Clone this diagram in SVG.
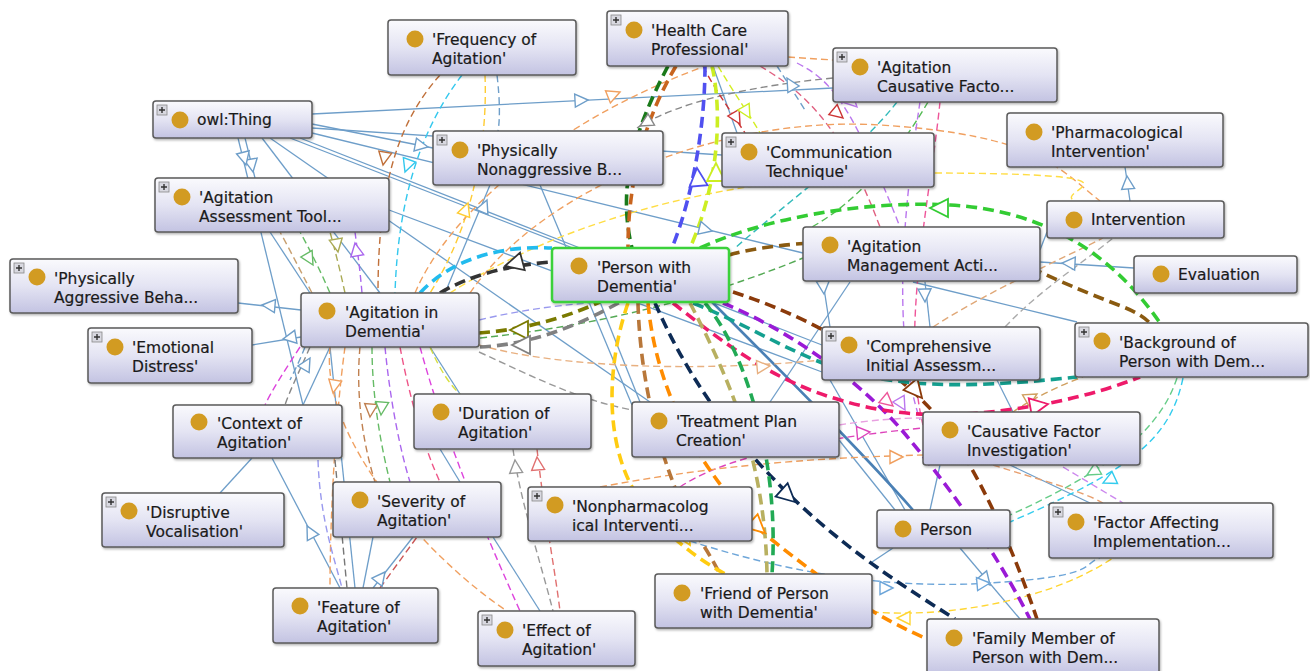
<svg xmlns="http://www.w3.org/2000/svg" xmlns:xlink="http://www.w3.org/1999/xlink" width="1310" height="671" viewBox="0 0 1310 671">
<defs>
<linearGradient id="g" x1="0" y1="0" x2="0" y2="1">
<stop offset="0" stop-color="#fafafd"/>
<stop offset="0.5" stop-color="#e4e4f3"/>
<stop offset="1" stop-color="#c3c3e2"/>
</linearGradient>
<filter id="sh" x="-5%" y="-10%" width="115%" height="130%">
<feDropShadow dx="1" dy="1.5" stdDeviation="1" flood-color="#000" flood-opacity="0.3"/>
</filter>
<path id="a" d="M0,0 L-13,-6.5 L-13,6.5 Z" fill="#fff" stroke-width="1.4"/>
<path id="A" d="M0,0 L-18,-9 L-18,9 Z" fill="#fff" stroke-width="1.8"/>
<g id="plus"><rect width="10" height="10" fill="#d8d8e0" stroke="#888" stroke-width="0.8"/><path d="M5,2 V8 M2,5 H8" stroke="#333" stroke-width="1.4"/></g>
</defs>
<style>
.b{fill:url(#g);stroke:#5a5a5a;stroke-width:1.5;filter:url(#sh)}
.bg{fill:url(#g);stroke:#3ad13a;stroke-width:2.5;filter:url(#sh)}
.c{fill:#d29b22}
.t{font-family:"DejaVu Sans","Liberation Sans",sans-serif;font-size:15.5px;fill:#1a1a1a;stroke:#1a1a1a;stroke-width:0.2}
.s{fill:none;stroke:#6e9ec9;stroke-width:1.3}
.d{fill:none;stroke-width:1.4;stroke-dasharray:7 4}
.D{fill:none;stroke-width:3.6;stroke-dasharray:11 6}
</style>
<rect width="1310" height="671" fill="#fff"/>
<g id="connectors">
<path class="s" d="M312,114 L833,88"/>
<path class="s" d="M312,124 L433,148"/>
<path class="s" d="M312,128 L722,155"/>
<path class="s" d="M312,133 L803,253"/>
<path class="s" d="M300,138 L580,248"/>
<path class="s" d="M290,138 L822,345"/>
<path class="s" d="M245,138 L255,178"/>
<path class="s" d="M238,138 L303,405"/>
<path class="s" d="M262,138 L380,293"/>
<path class="s" d="M270,138 L650,402"/>
<path class="s" d="M389,210 L822,372"/>
<path class="s" d="M238,303 L301,310"/>
<path class="s" d="M252,345 L301,337"/>
<path class="s" d="M303,405 L330,347"/>
<path class="s" d="M220,493 L252,458"/>
<path class="s" d="M340,588 L272,458"/>
<path class="s" d="M363,588 L373,537"/>
<path class="s" d="M373,588 L413,537"/>
<path class="s" d="M355,588 L330,347"/>
<path class="s" d="M493,537 L540,611"/>
<path class="s" d="M440,449 L460,482"/>
<path class="s" d="M430,347 L460,394"/>
<path class="s" d="M445,293 L490,185"/>
<path class="s" d="M310,293 L270,232"/>
<path class="s" d="M713,66 L737,133"/>
<path class="s" d="M1130,201 L1125,167"/>
<path class="s" d="M1134,268 L1040,262"/>
<path class="s" d="M1047,232 L1040,250"/>
<path class="s" d="M823,282 L830,327"/>
<path class="s" d="M925,282 L930,327"/>
<path class="s" d="M913,282 L1077,322"/>
<path class="s" d="M770,402 L850,282"/>
<path class="s" d="M997,380 L1013,412"/>
<path class="s" d="M830,380 L905,510"/>
<path class="s" d="M839,440 L895,510"/>
<path class="s" d="M940,465 L930,510"/>
<path class="s" d="M960,548 L1020,619"/>
<path class="s" d="M893,548 L872,562"/>
<path class="s" d="M1010,465 L1090,503"/>
<path class="s" d="M600,302 L640,402"/>
<path class="s" d="M540,185 L632,405"/>
<path fill="none" stroke="#4a80b5" stroke-width="2.6" d="M712,302 C780,370 860,450 913,510"/>
<path class="d" stroke="#c0703a" d="M440,75 C400,120 378,180 378,293"/>
<path class="d" stroke="#33c8ee" d="M462,75 C420,130 398,200 395,293"/>
<path class="d" stroke="#ffcc33" d="M485,75 C488,150 470,230 430,293"/>
<path class="d" stroke="#6e9ec9" d="M497,75 C500,100 500,120 498,131"/>
<path class="d" stroke="#f0a060" d="M415,293 C450,210 560,120 700,68"/>
<path class="d" stroke="#f0a060" d="M788,57 L833,60"/>
<path class="d" stroke="#888" d="M833,78 C760,85 680,100 637,128"/>
<path class="d" stroke="#cc3333" d="M703,66 C715,90 730,110 745,133"/>
<path class="d" stroke="#e06080" d="M760,66 C800,90 840,120 880,227"/>
<path class="d" stroke="#bb77ee" d="M797,63 C830,80 850,100 900,227"/>
<path class="d" stroke="#6e9ec9" d="M777,66 L805,110"/>
<path class="d" stroke="#d4ee22" stroke-width="2" d="M718,66 C735,95 750,115 760,133"/>
<path class="d" stroke="#f0a060" d="M470,293 C540,190 720,115 880,125 S1060,170 1100,201"/>
<path class="d" stroke="#ffdd44" d="M450,293 C540,235 700,172 935,173 S1050,190 1075,201"/>
<path class="d" stroke="#33bbbb" d="M897,102 C860,150 790,200 735,248"/>
<path class="d" stroke="#bb77ee" d="M920,102 C905,200 890,330 920,420"/>
<path class="d" stroke="#55bb55" d="M928,102 C900,150 860,200 812,227"/>
<path class="d" stroke="#ee5599" d="M940,102 C930,200 900,330 923,425"/>
<path class="d" stroke="#9999ee" d="M479,320 C520,310 560,305 600,302"/>
<path class="d" stroke="#55aa55" d="M480,338 C600,325 700,300 803,258"/>
<path class="d" stroke="#e8b080" d="M479,345 C560,368 700,372 822,360"/>
<path class="d" stroke="#999" d="M479,352 C540,380 580,400 632,410"/>
<path class="d" stroke="#e0a878" d="M933,327 C990,290 1060,260 1103,238"/>
<path class="d" stroke="#aaa" d="M1005,327 C1040,290 1080,265 1113,238"/>
<path class="d" stroke="#d0a060" d="M1013,412 C1030,400 1060,385 1083,377"/>
<path class="d" stroke="#66cc88" d="M1177,378 C1160,430 1110,470 1010,515"/>
<path class="d" stroke="#33ccee" d="M1183,378 C1170,440 1130,470 1010,522"/>
<path class="d" stroke="#cc88ee" d="M1063,467 L1123,503"/>
<path class="d" stroke="#e8a070" d="M993,465 C1040,480 1080,490 1103,503"/>
<path class="d" stroke="#6ea6d9" d="M690,541 C780,570 880,590 990,583 S1080,565 1100,558"/>
<path class="d" stroke="#ffd633" d="M872,612 C950,618 1050,600 1113,558"/>
<path class="d" stroke="#dd44bb" d="M680,487 C720,460 800,440 923,428"/>
<path class="d" stroke="#f0a060" d="M600,487 C700,468 800,458 923,455"/>
<path class="d" stroke="#e8a0e0" d="M839,425 C870,420 900,418 923,418"/>
<path class="d" stroke="#dd44dd" d="M300,347 C285,370 272,390 265,405"/>
<path class="d" stroke="#888" d="M310,347 C300,370 290,390 285,405"/>
<path class="d" stroke="#f0a060" d="M345,347 C335,420 330,520 330,588"/>
<path class="d" stroke="#c08050" d="M360,347 C355,400 365,450 375,482"/>
<path class="d" stroke="#66bb66" d="M372,347 C372,400 382,450 390,482"/>
<path class="d" stroke="#aa66ee" d="M385,347 C390,400 400,450 410,482"/>
<path class="d" stroke="#ee5588" d="M400,347 C410,400 425,450 440,482"/>
<path class="d" stroke="#dd44dd" d="M420,347 C440,420 470,500 520,611"/>
<path class="d" stroke="#d8e040" d="M430,347 C440,370 450,385 460,394"/>
<path class="d" stroke="#f0a060" d="M330,347 C320,440 430,560 507,611"/>
<path class="d" stroke="#9999ee" d="M318,460 C320,520 335,560 342,588"/>
<path class="d" stroke="#777" d="M335,460 L347,588"/>
<path class="d" stroke="#cc5555" d="M380,588 L417,537"/>
<path class="d" stroke="#999" d="M513,449 C520,500 540,560 553,611"/>
<path class="d" stroke="#e07070" d="M537,449 C545,520 555,570 560,611"/>
<path class="d" stroke="#66bb66" d="M330,293 C320,270 310,250 300,232"/>
<path class="d" stroke="#aaaa55" d="M345,293 C340,270 335,250 330,232"/>
<path class="d" stroke="#aa66ee" d="M362,293 C360,270 358,255 355,232"/>
<path class="d" stroke="#c8a070" d="M312,293 C300,270 290,250 280,232"/>
<path class="d" stroke="#6e9ec9" d="M305,347 C300,360 295,370 290,380"/>
<path class="D" stroke="#1a7a1a" d="M668,66 C640,120 615,180 632,248"/>
<path class="D" stroke="#c8641e" d="M676,66 C650,110 628,170 628,248"/>
<path class="D" stroke="#5050f0" d="M705,66 C705,120 695,190 672,248"/>
<path class="D" stroke="#ccee22" d="M712,66 C722,110 720,180 690,248"/>
<path class="D" stroke="#33cc33" d="M700,248 C760,220 860,200 950,205 S1110,250 1160,323"/>
<path class="D" stroke="#8a5a10" d="M729,255 C800,235 960,235 1040,272 S1130,305 1150,323"/>
<path class="D" stroke="#8b3a0a" d="M733,292 C820,320 900,370 940,420 C975,465 1010,540 1037,619"/>
<path class="D" stroke="#9a1ad6" d="M723,303 C800,335 870,390 910,440 C960,500 1000,560 1030,619"/>
<path class="D" stroke="#14a090" d="M693,303 C760,330 800,360 860,375 C930,390 1000,385 1077,377"/>
<path class="D" stroke="#ee1a6a" d="M673,303 C720,340 770,380 840,400 C900,418 960,420 1050,403 C1090,395 1120,385 1140,377"/>
<path class="D" stroke="#0d2b55" d="M655,303 C680,360 720,430 800,505 C860,560 910,590 955,619"/>
<path class="D" stroke="#ff8c00" d="M648,303 C655,380 690,460 760,530 C820,580 880,620 930,640"/>
<path class="D" stroke="#b8773a" d="M638,303 C640,380 660,470 700,540 C710,555 715,565 720,574"/>
<path class="D" stroke="#ffcc11" d="M628,303 C605,370 605,450 640,500 C670,540 700,560 725,574"/>
<path class="D" stroke="#b8b060" d="M690,303 C730,380 765,460 767,574"/>
<path class="D" stroke="#22aa55" d="M705,303 C745,350 780,460 772,574"/>
<path class="D" stroke="#7a7a00" d="M479,333 C520,330 560,320 600,302"/>
<path class="D" stroke="#808080" d="M480,347 C530,345 580,325 620,302"/>
<path class="D" stroke="#22bbee" d="M420,293 C450,260 500,245 552,248"/>
<path class="D" stroke="#333" d="M440,293 C470,275 510,265 552,262"/>
<use href="#a" stroke="#6e9ec9" transform="translate(588,100) rotate(-3)"/>
<use href="#a" stroke="#6e9ec9" transform="translate(428,147) rotate(11)"/>
<use href="#a" stroke="#6e9ec9" transform="translate(712,231) rotate(14)"/>
<use href="#a" stroke="#6e9ec9" transform="translate(253,172) rotate(80)"/>
<use href="#a" stroke="#6e9ec9" transform="translate(246,165) rotate(76)"/>
<use href="#a" stroke="#6e9ec9" transform="translate(262,305) rotate(185)"/>
<use href="#a" stroke="#6e9ec9" transform="translate(283,339) rotate(170)"/>
<use href="#a" stroke="#6e9ec9" transform="translate(307,526) rotate(-118)"/>
<use href="#a" stroke="#6e9ec9" transform="translate(385,572) rotate(-52)"/>
<use href="#a" stroke="#6e9ec9" transform="translate(487,200) rotate(-67)"/>
<use href="#a" stroke="#6e9ec9" transform="translate(1127,176) rotate(-95)"/>
<use href="#a" stroke="#6e9ec9" transform="translate(1062,263) rotate(183)"/>
<use href="#a" stroke="#6e9ec9" transform="translate(824,294) rotate(85)"/>
<use href="#a" stroke="#6e9ec9" transform="translate(925,302) rotate(88)"/>
<use href="#a" stroke="#6e9ec9" transform="translate(990,585) rotate(50)"/>
<use href="#a" stroke="#6e9ec9" transform="translate(787,78) rotate(-120)"/>
<use href="#a" stroke="#6e9ec9" transform="translate(310,358) rotate(-60)"/>
<use href="#a" stroke="#c0703a" transform="translate(383,165) rotate(100)"/>
<use href="#a" stroke="#33c8ee" transform="translate(405,172) rotate(110)"/>
<use href="#a" stroke="#ffcc33" transform="translate(468,203) rotate(-70)"/>
<use href="#a" stroke="#f0a060" transform="translate(620,92) rotate(-22)"/>
<use href="#a" stroke="#888" transform="translate(640,126) rotate(150)"/>
<use href="#a" stroke="#cc3333" transform="translate(740,124) rotate(60)"/>
<use href="#a" stroke="#cc3333" transform="translate(843,118) rotate(40)"/>
<use href="#a" stroke="#bb77ee" transform="translate(857,107) rotate(45)"/>
<use href="#a" stroke="#ccee22" transform="translate(750,118) rotate(60)"/>
<use href="#a" stroke="#bb77ee" transform="translate(905,410) rotate(60)"/>
<use href="#a" stroke="#ee5599" transform="translate(893,406) rotate(40)"/>
<use href="#a" stroke="#e8b080" transform="translate(770,366) rotate(-5)"/>
<use href="#a" stroke="#d0a060" transform="translate(1037,394) rotate(-30)"/>
<use href="#a" stroke="#66cc88" transform="translate(1087,475) rotate(150)"/>
<use href="#a" stroke="#33ccee" transform="translate(1103,483) rotate(155)"/>
<use href="#a" stroke="#6ea6d9" transform="translate(893,588) rotate(0)"/>
<use href="#a" stroke="#6ea6d9" transform="translate(990,583) rotate(-5)"/>
<use href="#a" stroke="#ffd633" transform="translate(897,618) rotate(180)"/>
<use href="#a" stroke="#dd44bb" transform="translate(870,432) rotate(-5)"/>
<use href="#a" stroke="#f0a060" transform="translate(903,457) rotate(0)"/>
<use href="#a" stroke="#f0a060" transform="translate(333,393) rotate(100)"/>
<use href="#a" stroke="#c08050" transform="translate(370,417) rotate(95)"/>
<use href="#a" stroke="#66bb66" transform="translate(381,415) rotate(95)"/>
<use href="#a" stroke="#999" transform="translate(515,460) rotate(-95)"/>
<use href="#a" stroke="#e07070" transform="translate(537,457) rotate(-95)"/>
<use href="#a" stroke="#66bb66" transform="translate(313,265) rotate(60)"/>
<use href="#a" stroke="#aaaa55" transform="translate(338,252) rotate(80)"/>
<use href="#a" stroke="#aa66ee" transform="translate(355,243) rotate(-100)"/>
<use href="#A" stroke="#5050f0" transform="translate(697,168) rotate(-95)"/>
<use href="#A" stroke="#ccee22" transform="translate(716,163) rotate(-90)"/>
<use href="#A" stroke="#33cc33" transform="translate(930,208) rotate(180)"/>
<use href="#A" stroke="#8b3a0a" transform="translate(922,398) rotate(50)"/>
<use href="#A" stroke="#0d2b55" transform="translate(795,502) rotate(42)"/>
<use href="#A" stroke="#ff8c00" transform="translate(765,533) rotate(42)"/>
<use href="#A" stroke="#ee1a6a" transform="translate(1048,404) rotate(-10)"/>
<use href="#A" stroke="#7a7a00" transform="translate(510,330) rotate(180)"/>
<use href="#A" stroke="#808080" transform="translate(512,345) rotate(180)"/>
<use href="#A" stroke="#333" transform="translate(505,266) rotate(165)"/>
<use href="#A" stroke="#ffcc11" transform="translate(690,545) rotate(60)"/>
</g>
<g id="nodes">
<g id="n-freq" transform="translate(388,20)"><rect class="b" width="188" height="55" rx="3"/><circle class="c" cx="27" cy="19" r="8.5"/><text class="t" x="44" y="25">'Frequency of<tspan x="44" dy="19">Agitation'</tspan></text></g>
<g id="n-hcp" transform="translate(607,11)"><rect class="b" width="181" height="55" rx="3"/><use href="#plus" x="4" y="4"/><circle class="c" cx="27" cy="19" r="8.5"/><text class="t" x="44" y="25">'Health Care<tspan x="44" dy="19">Professional'</tspan></text></g>
<g id="n-acf" transform="translate(833,48)"><rect class="b" width="224" height="54" rx="3"/><use href="#plus" x="4" y="4"/><circle class="c" cx="27" cy="19" r="8.5"/><text class="t" x="44" y="25">'Agitation<tspan x="44" dy="19">Causative Facto...</tspan></text></g>
<g id="n-owl" transform="translate(153,101)"><rect class="b" width="159" height="37" rx="3"/><use href="#plus" x="4" y="4"/><circle class="c" cx="27" cy="19" r="8.5"/><text class="t" x="44" y="24">owl:Thing</text></g>
<g id="n-pnb" transform="translate(433,131)"><rect class="b" width="230" height="54" rx="3"/><use href="#plus" x="4" y="4"/><circle class="c" cx="27" cy="19" r="8.5"/><text class="t" x="44" y="25">'Physically<tspan x="44" dy="19">Nonaggressive B...</tspan></text></g>
<g id="n-ct" transform="translate(722,133)"><rect class="b" width="212" height="54" rx="3"/><use href="#plus" x="4" y="4"/><circle class="c" cx="27" cy="19" r="8.5"/><text class="t" x="44" y="25">'Communication<tspan x="44" dy="19">Technique'</tspan></text></g>
<g id="n-pi" transform="translate(1007,113)"><rect class="b" width="216" height="54" rx="3"/><circle class="c" cx="27" cy="19" r="8.5"/><text class="t" x="44" y="25">'Pharmacological<tspan x="44" dy="19">Intervention'</tspan></text></g>
<g id="n-aat" transform="translate(155,178)"><rect class="b" width="234" height="54" rx="3"/><use href="#plus" x="4" y="4"/><circle class="c" cx="27" cy="19" r="8.5"/><text class="t" x="44" y="25">'Agitation<tspan x="44" dy="19">Assessment Tool...</tspan></text></g>
<g id="n-int" transform="translate(1047,201)"><rect class="b" width="177" height="37" rx="3"/><circle class="c" cx="27" cy="19" r="8.5"/><text class="t" x="44" y="24">Intervention</text></g>
<g id="n-pwd" transform="translate(552,248)"><rect class="bg" width="177" height="54" rx="3"/><circle class="c" cx="27" cy="18" r="8.5"/><text class="t" x="45" y="25">'Person with<tspan x="45" dy="19">Dementia'</tspan></text></g>
<g id="n-ama" transform="translate(803,227)"><rect class="b" width="237" height="54" rx="3"/><circle class="c" cx="27" cy="18" r="8.5"/><text class="t" x="44" y="25">'Agitation<tspan x="44" dy="19">Management Acti...</tspan></text></g>
<g id="n-eval" transform="translate(1134,256)"><rect class="b" width="163" height="37" rx="3"/><circle class="c" cx="27" cy="18" r="8.5"/><text class="t" x="44" y="24">Evaluation</text></g>
<g id="n-pab" transform="translate(10,259)"><rect class="b" width="228" height="54" rx="3"/><use href="#plus" x="4" y="4"/><circle class="c" cx="27" cy="18" r="8.5"/><text class="t" x="44" y="25">'Physically<tspan x="44" dy="19">Aggressive Beha...</tspan></text></g>
<g id="n-aid" transform="translate(301,293)"><rect class="b" width="178" height="54" rx="3"/><circle class="c" cx="26" cy="18" r="8.5"/><text class="t" x="44" y="25">'Agitation in<tspan x="44" dy="19">Dementia'</tspan></text></g>
<g id="n-ed" transform="translate(88,328)"><rect class="b" width="164" height="55" rx="3"/><use href="#plus" x="4" y="4"/><circle class="c" cx="27" cy="19" r="8.5"/><text class="t" x="44" y="25">'Emotional<tspan x="44" dy="19">Distress'</tspan></text></g>
<g id="n-cia" transform="translate(822,327)"><rect class="b" width="218" height="53" rx="3"/><use href="#plus" x="4" y="4"/><circle class="c" cx="27" cy="18" r="8.5"/><text class="t" x="44" y="25">'Comprehensive<tspan x="44" dy="19">Initial Assessm...</tspan></text></g>
<g id="n-bpd" transform="translate(1075,323)"><rect class="b" width="233" height="54" rx="3"/><use href="#plus" x="4" y="4"/><circle class="c" cx="27" cy="18" r="8.5"/><text class="t" x="44" y="25">'Background of<tspan x="44" dy="19">Person with Dem...</tspan></text></g>
<g id="n-ca" transform="translate(173,405)"><rect class="b" width="169" height="53" rx="3"/><circle class="c" cx="26" cy="17" r="8.5"/><text class="t" x="44" y="24">'Context of<tspan x="44" dy="19">Agitation'</tspan></text></g>
<g id="n-da" transform="translate(414,394)"><rect class="b" width="177" height="55" rx="3"/><circle class="c" cx="27" cy="18" r="8.5"/><text class="t" x="44" y="25">'Duration of<tspan x="44" dy="19">Agitation'</tspan></text></g>
<g id="n-tpc" transform="translate(632,402)"><rect class="b" width="207" height="55" rx="3"/><circle class="c" cx="27" cy="19" r="8.5"/><text class="t" x="44" y="25">'Treatment Plan<tspan x="44" dy="19">Creation'</tspan></text></g>
<g id="n-cfi" transform="translate(923,412)"><rect class="b" width="217" height="53" rx="3"/><circle class="c" cx="27" cy="18" r="8.5"/><text class="t" x="44" y="25">'Causative Factor<tspan x="44" dy="19">Investigation'</tspan></text></g>
<g id="n-dv" transform="translate(102,493)"><rect class="b" width="182" height="54" rx="3"/><use href="#plus" x="4" y="4"/><circle class="c" cx="27" cy="18" r="8.5"/><text class="t" x="44" y="25">'Disruptive<tspan x="44" dy="19">Vocalisation'</tspan></text></g>
<g id="n-sa" transform="translate(333,482)"><rect class="b" width="168" height="55" rx="3"/><circle class="c" cx="27" cy="18" r="8.5"/><text class="t" x="44" y="25">'Severity of<tspan x="44" dy="19">Agitation'</tspan></text></g>
<g id="n-npi" transform="translate(528,487)"><rect class="b" width="224" height="54" rx="3"/><use href="#plus" x="4" y="4"/><circle class="c" cx="27" cy="18" r="8.5"/><text class="t" x="44" y="25">'Nonpharmacolog<tspan x="44" dy="19">ical Interventi...</tspan></text></g>
<g id="n-per" transform="translate(877,510)"><rect class="b" width="133" height="38" rx="3"/><circle class="c" cx="26" cy="19" r="8.5"/><text class="t" x="43" y="25">Person</text></g>
<g id="n-fai" transform="translate(1049,503)"><rect class="b" width="224" height="55" rx="3"/><use href="#plus" x="4" y="4"/><circle class="c" cx="27" cy="19" r="8.5"/><text class="t" x="44" y="25">'Factor Affecting<tspan x="44" dy="19">Implementation...</tspan></text></g>
<g id="n-feat" transform="translate(273,588)"><rect class="b" width="165" height="55" rx="3"/><circle class="c" cx="27" cy="18" r="8.5"/><text class="t" x="44" y="25">'Feature of<tspan x="44" dy="19">Agitation'</tspan></text></g>
<g id="n-ea" transform="translate(478,611)"><rect class="b" width="157" height="55" rx="3"/><use href="#plus" x="4" y="4"/><circle class="c" cx="27" cy="19" r="8.5"/><text class="t" x="44" y="25">'Effect of<tspan x="44" dy="19">Agitation'</tspan></text></g>
<g id="n-fpd" transform="translate(655,574)"><rect class="b" width="217" height="54" rx="3"/><circle class="c" cx="27" cy="19" r="8.5"/><text class="t" x="45" y="25">'Friend of Person<tspan x="45" dy="19">with Dementia'</tspan></text></g>
<g id="n-fmp" transform="translate(927,619)"><rect class="b" width="232" height="56" rx="3"/><circle class="c" cx="27" cy="19" r="8.5"/><text class="t" x="45" y="25">'Family Member of<tspan x="45" dy="19">Person with Dem...</tspan></text></g>
</g>
</svg>
